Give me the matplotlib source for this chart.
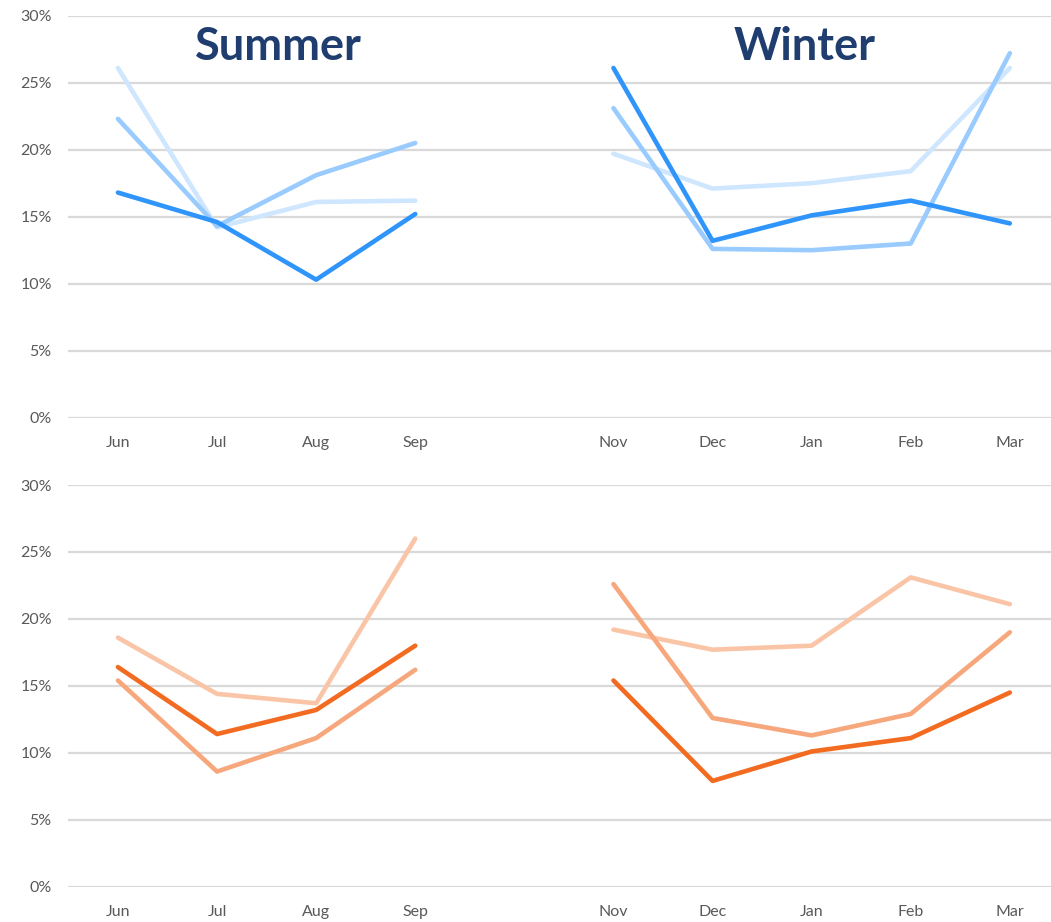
import numpy as np
import matplotlib
matplotlib.use("Agg")
import matplotlib.pyplot as plt
from matplotlib.ticker import FuncFormatter

default_font = "Lato"

# category axis: summer months, an empty slot, winter months
months = ["Jun", "Jul", "Aug", "Sep", "", "Nov", "Dec", "Jan", "Feb", "Mar"]
summer_idx = [0, 1, 2, 3]
winter_idx = [5, 6, 7, 8, 9]

# top row (blue), values in %
blue_summer_dark = [16.8, 14.6, 10.3, 15.2]
blue_summer_mid = [22.3, 14.3, 18.1, 20.5]
blue_summer_light = [26.1, 14.2, 16.1, 16.2]
blue_winter_dark = [26.1, 13.2, 15.1, 16.2, 14.5]
blue_winter_mid = [23.1, 12.6, 12.5, 13.0, 27.2]
blue_winter_light = [19.7, 17.1, 17.5, 18.4, 26.1]

# bottom row (orange), values in %
orange_summer_dark = [16.4, 11.4, 13.2, 18.0]
orange_summer_mid = [15.4, 8.6, 11.1, 16.2]
orange_summer_light = [18.6, 14.4, 13.7, 26.0]
orange_winter_dark = [15.4, 7.9, 10.1, 11.1, 14.5]
orange_winter_mid = [22.6, 12.6, 11.3, 12.9, 19.0]
orange_winter_light = [19.2, 17.7, 18.0, 23.1, 21.1]

blues = {"dark": "#2F95FA", "mid": "#99CBFF", "light": "#CFE6FF"}
oranges = {"dark": "#F26B21", "mid": "#F7A77C", "light": "#FAC5A7"}

W, H = 1051, 922
fig = plt.figure(figsize=(W / 100, H / 100), dpi=100)


def make_axes(top_px, bottom_px):
    left_px, right_px = 68.4, W
    ax = fig.add_axes([left_px / W, 1 - bottom_px / H,
                       (right_px - left_px) / W, (bottom_px - top_px) / H])
    spacing = 99.1
    ax.set_xlim(-0.5, -0.5 + (right_px - left_px) / spacing)
    ax.set_ylim(0, 30)
    ax.set_yticks(np.arange(0, 31, 5))
    ax.yaxis.set_major_formatter(FuncFormatter(lambda v, _: f"{v:.0f}%"))
    ax.set_xticks(summer_idx + winter_idx)
    ax.set_xticklabels([months[i] for i in summer_idx + winter_idx])
    ax.grid(axis="y", color="#D9D9D9", linewidth=1.6)
    ax.set_axisbelow(True)
    for s in ax.spines.values():
        s.set_visible(False)
    ax.tick_params(length=0, labelsize=11.5, labelcolor="#595959")
    ax.tick_params(axis="x", pad=13.5)
    ax.tick_params(axis="y", pad=12)
    for lab in ax.get_xticklabels() + ax.get_yticklabels():
        lab.set_fontfamily(default_font)
    return ax


def draw(ax, series, colors):
    for key in ["light", "mid", "dark"]:
        s_vals, w_vals = series[key]
        for idx, vals in ((summer_idx, s_vals), (winter_idx, w_vals)):
            ax.plot(idx, vals, color=colors[key], linewidth=3.3,
                    solid_capstyle="round", solid_joinstyle="round")


ax_top = make_axes(15.7, 417.7)
draw(ax_top, {"dark": (blue_summer_dark, blue_winter_dark),
              "mid": (blue_summer_mid, blue_winter_mid),
              "light": (blue_summer_light, blue_winter_light)}, blues)

ax_bot = make_axes(485.0, 886.7)
draw(ax_bot, {"dark": (orange_summer_dark, orange_winter_dark),
              "mid": (orange_summer_mid, orange_winter_mid),
              "light": (orange_summer_light, orange_winter_light)}, oranges)

for label, xpx in (("Summer", 278), ("Winter", 805)):
    fig.text(xpx / W, 1 - 60 / H, label, ha="center", va="baseline",
             fontsize=32.5, fontweight="bold", color="#1F3D6E",
             fontfamily=default_font)

fig.savefig("out.png", dpi=100)
